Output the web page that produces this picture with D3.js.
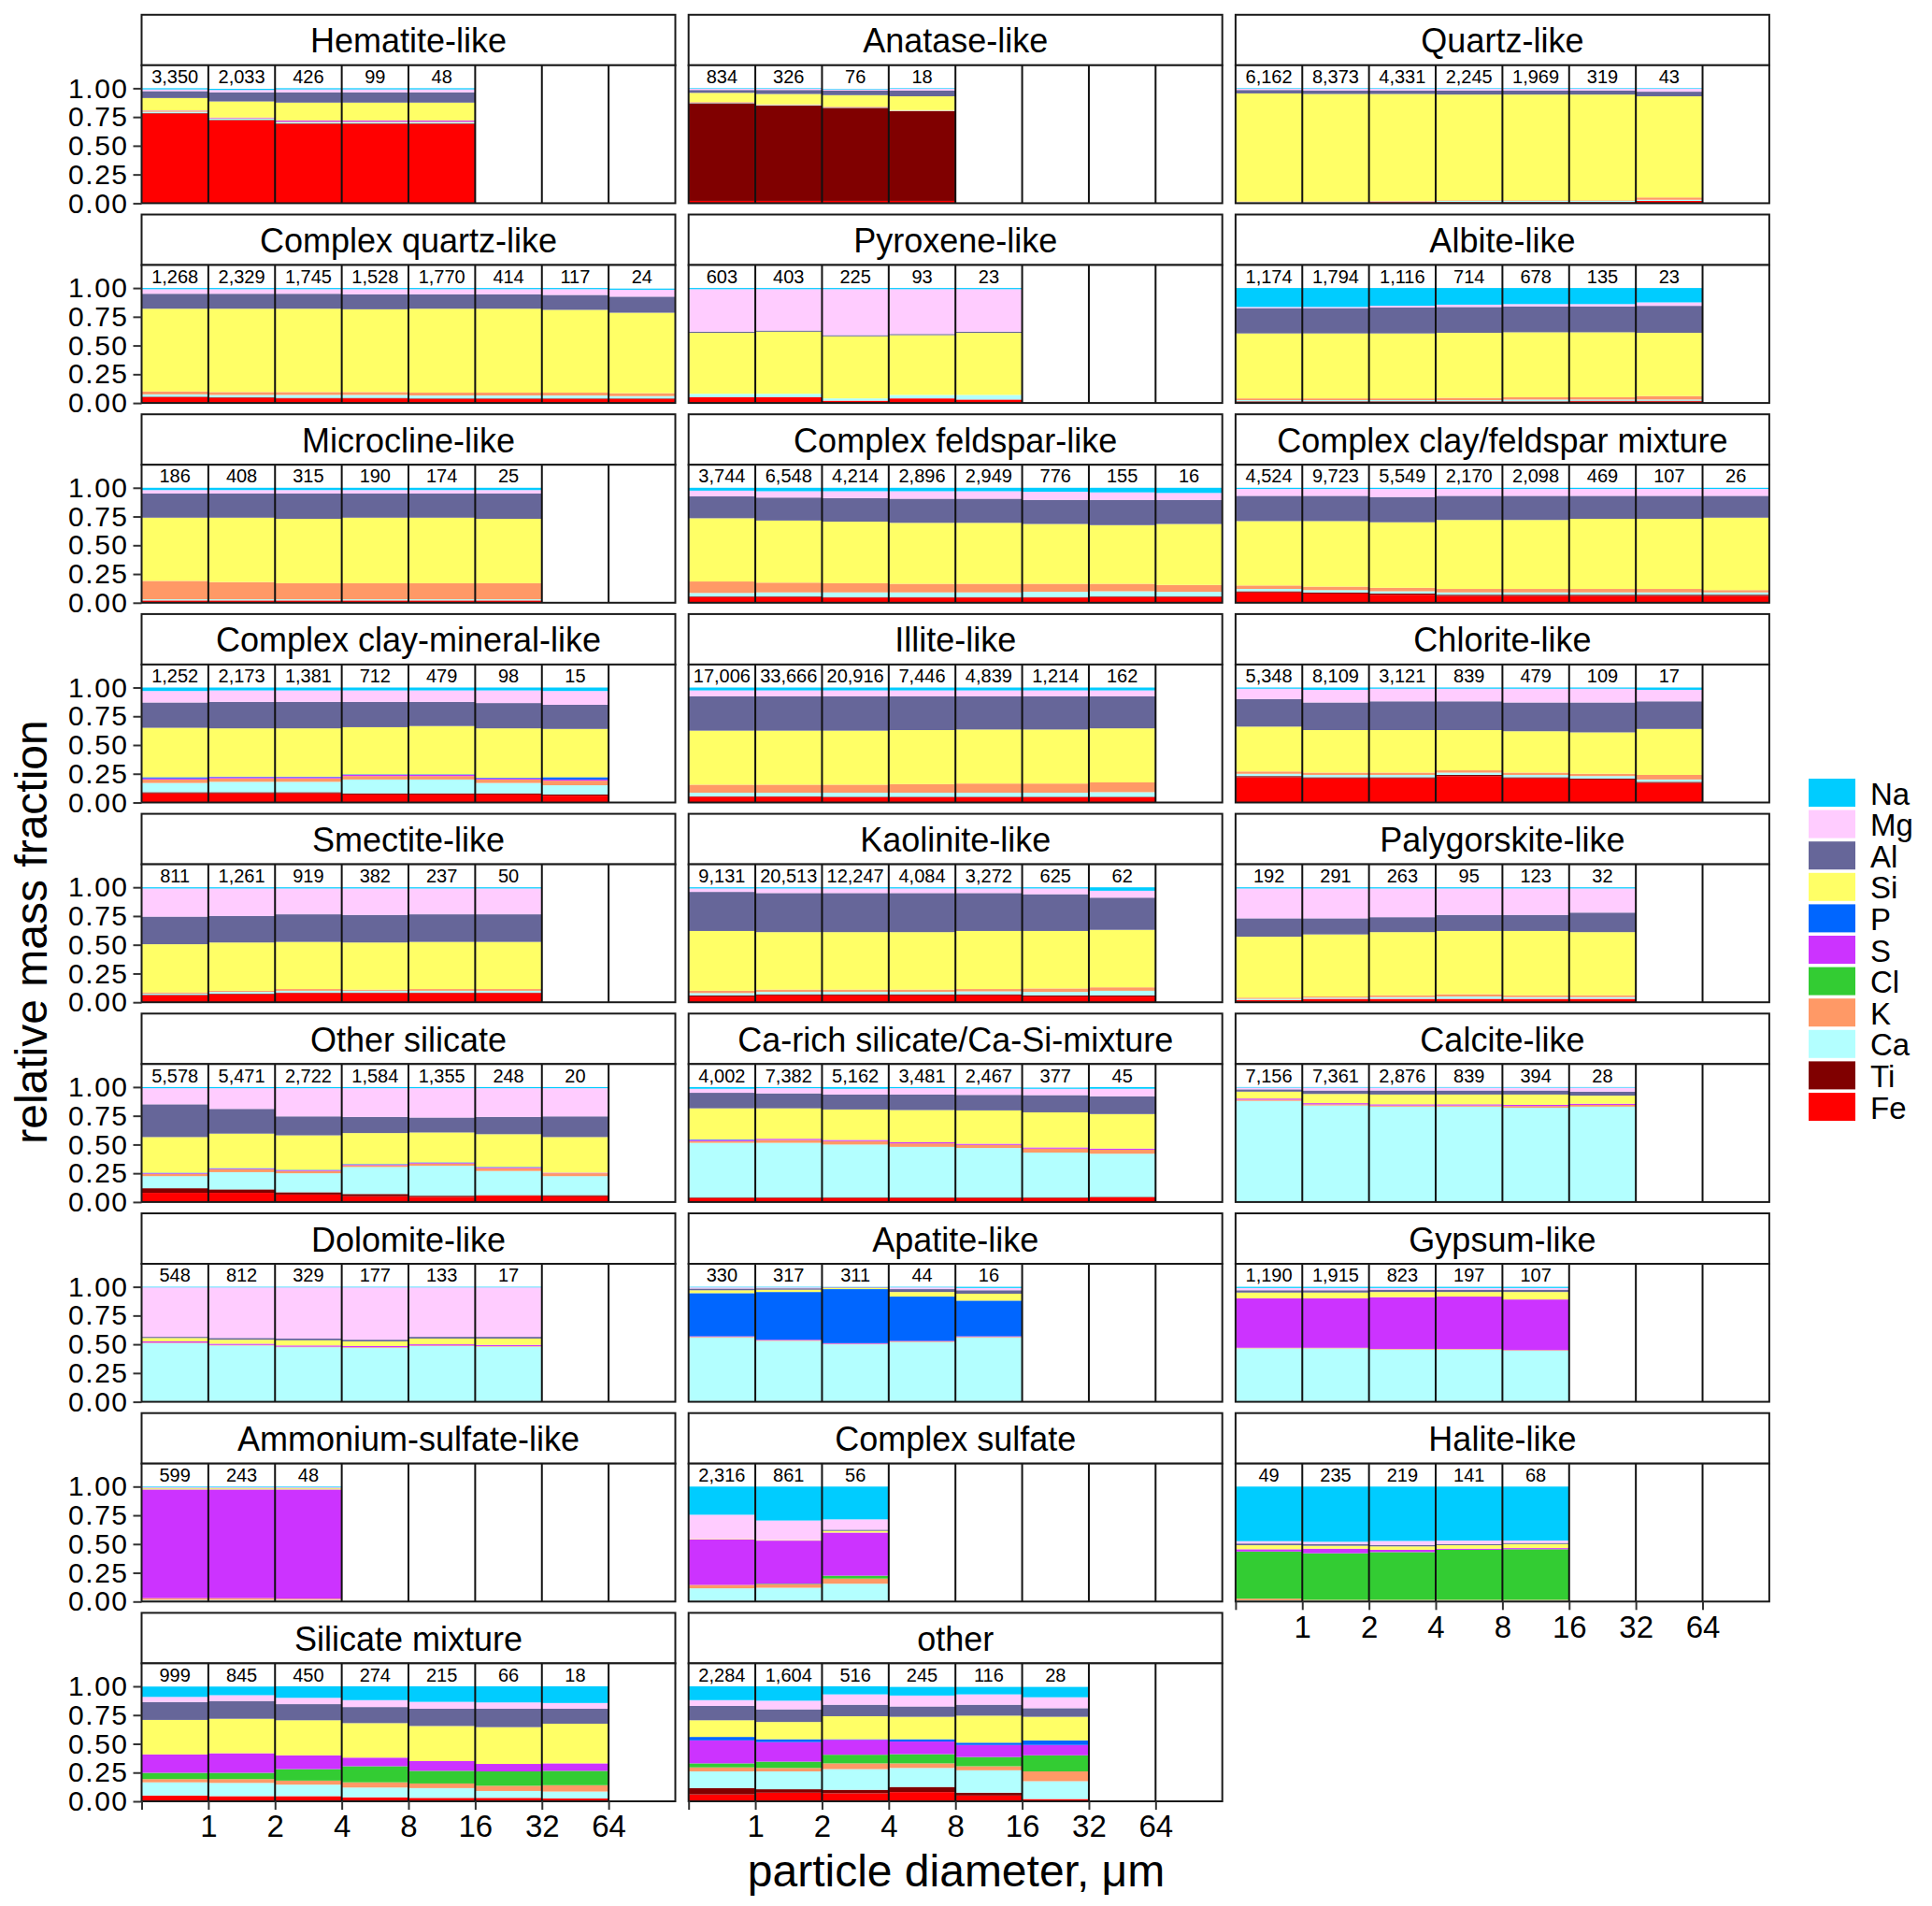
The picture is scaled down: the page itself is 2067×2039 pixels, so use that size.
<!DOCTYPE html>
<html>
<head>
<meta charset="utf-8">
<script src="https://cdn.jsdelivr.net/npm/d3@7"></script>
<style>
  html, body { margin: 0; padding: 0; background: #fff; }
  svg text { font-family: "Liberation Sans", Arial, Helvetica, sans-serif; fill: #000; }
</style>
</head>
<body>
<svg id="chart" width="2067" height="2039"></svg>
<script>
// ---------------- DATA ----------------
const panels = [
  "Hematite-like", "Anatase-like", "Quartz-like",
  "Complex quartz-like", "Pyroxene-like", "Albite-like",
  "Microcline-like", "Complex feldspar-like", "Complex clay/feldspar mixture",
  "Complex clay-mineral-like", "Illite-like", "Chlorite-like",
  "Smectite-like", "Kaolinite-like", "Palygorskite-like",
  "Other silicate", "Ca-rich silicate/Ca-Si-mixture", "Calcite-like",
  "Dolomite-like", "Apatite-like", "Gypsum-like",
  "Ammonium-sulfate-like", "Complex sulfate", "Halite-like",
  "Silicate mixture", "other"
];

const counts = [
  [3350, 2033, 426, 99, 48],
  [834, 326, 76, 18],
  [6162, 8373, 4331, 2245, 1969, 319, 43],
  [1268, 2329, 1745, 1528, 1770, 414, 117, 24],
  [603, 403, 225, 93, 23],
  [1174, 1794, 1116, 714, 678, 135, 23],
  [186, 408, 315, 190, 174, 25],
  [3744, 6548, 4214, 2896, 2949, 776, 155, 16],
  [4524, 9723, 5549, 2170, 2098, 469, 107, 26],
  [1252, 2173, 1381, 712, 479, 98, 15],
  [17006, 33666, 20916, 7446, 4839, 1214, 162],
  [5348, 8109, 3121, 839, 479, 109, 17],
  [811, 1261, 919, 382, 237, 50],
  [9131, 20513, 12247, 4084, 3272, 625, 62],
  [192, 291, 263, 95, 123, 32],
  [5578, 5471, 2722, 1584, 1355, 248, 20],
  [4002, 7382, 5162, 3481, 2467, 377, 45],
  [7156, 7361, 2876, 839, 394, 28],
  [548, 812, 329, 177, 133, 17],
  [330, 317, 311, 44, 16],
  [1190, 1915, 823, 197, 107],
  [599, 243, 48],
  [2316, 861, 56],
  [49, 235, 219, 141, 68],
  [999, 845, 450, 274, 215, 66, 18],
  [2284, 1604, 516, 245, 116, 28]
];

const elements = ["Na", "Mg", "Al", "Si", "P", "S", "Cl", "K", "Ca", "Ti", "Fe"];
const elementColors = ["#00CCFF", "#FFCCFF", "#666699", "#FFFF66", "#0066FF", "#CC33FF",
                       "#33CC33", "#FF9966", "#B3FFFF", "#800000", "#FF0000"];

const binEdges = [0.5, 1, 2, 4, 8, 16, 32, 64, 128];
const xTickLabels = ["", "1", "2", "4", "8", "16", "32", "64"];
const yTicks = [0, 0.25, 0.5, 0.75, 1];

// per-element mass fractions: one array per panel (same order as panels), one value per size bin
// [] means the element is absent in that panel
const Na = [
  [.01,.01,.01,.01,.01], [.005,.005,.005,.005], [.005,.005,.005,.005,.005,.005,.005],
  [.01,.01,.01,.01,.01,.01,.01,.01], [.01,.01,.01,.01,.01], [.165,.165,.155,.145,.14,.14,.125],
  [.02,.02,.02,.02,.02,.02], [.025,.03,.03,.03,.03,.035,.04,.045], [.01,.01,.01,.01,.01,.01,.01,.01],
  [.03,.025,.025,.025,.025,.025,.03], [.025,.025,.025,.025,.025,.025,.025], [.01,.02,.01,.01,.01,.01,.02],
  [.01,.01,.01,.01,.01,.01], [.01,.01,.01,.01,.01,.01,.03], [.01,.01,.01,.01,.01,.01],
  [.01,.01,.01,.01,.01,.01,.01], [.015,.01,.015,.01,.01,.01,.015], [.005,.005,.005,.005,.005,.005],
  [.005,.005,.005,.005,.005,.005], [.005,.005,.002,.005,.01], [.01,.01,.01,.01,.01],
  [.005,.005,.005], [.245,.295,.285], [.475,.48,.473,.47,.47],
  [.09,.075,.10,.12,.135,.14,.145], [.12,.125,.07,.075,.065,.09]
];
const Mg = [
  [.015,.02,.025,.025,.025], [.01,.01,.01,.015], [.01,.015,.015,.015,.015,.015,.025],
  [.04,.04,.04,.045,.045,.045,.05,.06], [.37,.36,.40,.39,.37], [.01,.01,.015,.02,.02,.02,.03],
  [.03,.03,.03,.03,.03,.03], [.05,.055,.06,.065,.065,.07,.065,.06], [.06,.06,.07,.06,.06,.06,.06,.06],
  [.1,.1,.1,.1,.1,.11,.12], [.05,.05,.05,.05,.05,.05,.05], [.09,.11,.11,.11,.12,.12,.10],
  [.245,.24,.225,.23,.225,.225], [.03,.04,.04,.04,.04,.05,.06], [.26,.26,.25,.23,.23,.21],
  [.14,.18,.245,.25,.255,.25,.245], [.035,.045,.05,.055,.055,.055,.065], [.015,.025,.025,.025,.025,.035],
  [.43,.44,.445,.455,.43,.43], [.01,.008,.003,.015,.02], [.02,.02,.015,.015,.015],
  [.005,.005,.005], [.21,.17,.09], [.02,.02,.035,.03,.02],
  [.045,.05,.055,.06,.06,.055,.05], [.05,.075,.09,.095,.09,.095]
];
const Al = [
  [.06,.08,.09,.09,.09], [.025,.035,.04,.05], [.03,.03,.03,.035,.035,.035,.04],
  [.13,.13,.13,.13,.125,.125,.13,.14], [.01,.01,.01,.01,.01], [.22,.22,.225,.225,.225,.225,.235],
  [.21,.21,.22,.21,.21,.22], [.19,.2,.205,.21,.21,.21,.22,.21], [.22,.22,.22,.21,.21,.2,.2,.19],
  [.22,.23,.23,.22,.21,.22,.21], [.3,.3,.3,.295,.29,.29,.28], [.24,.24,.25,.25,.25,.26,.24],
  [.24,.23,.24,.24,.24,.24], [.34,.34,.34,.34,.33,.32,.28], [.16,.14,.13,.14,.14,.17],
  [.285,.215,.165,.14,.13,.15,.18], [.135,.13,.13,.135,.135,.15,.155], [.02,.03,.035,.035,.035,.035],
  [.01,.015,.015,.015,.015,.015], [.015,.012,.005,.025,.03], [.02,.02,.02,.02,.02],
  [.005,.005,.005], [0,0,.01], [.015,.015,.012,.01,.01],
  [.155,.155,.14,.14,.15,.16,.13], [.125,.11,.10,.09,.095,.075]
];
const Si = [
  [.11,.14,.155,.155,.155], [.08,.09,.1,.12], [.94,.935,.93,.92,.92,.92,.88],
  [.72,.725,.725,.72,.73,.73,.72,.7], [.53,.54,.54,.52,.54], [.565,.565,.565,.565,.565,.565,.55],
  [.55,.56,.56,.57,.57,.56], [.55,.54,.535,.53,.53,.52,.51,.53], [.56,.57,.57,.6,.6,.61,.61,.63],
  [.43,.42,.42,.41,.42,.43,.42], [.47,.47,.47,.47,.47,.47,.47], [.39,.37,.37,.35,.36,.36,.40],
  [.42,.42,.41,.41,.41,.41], [.52,.5,.5,.5,.505,.5,.5], [.53,.54,.55,.55,.56,.55],
  [.31,.3,.3,.27,.26,.285,.31], [.27,.265,.265,.28,.29,.305,.30], [.06,.08,.085,.085,.09,.07],
  [.03,.035,.045,.04,.05,.055], [.025,.02,.01,.04,.06], [.05,.05,.045,.04,.065],
  [.01,.01,.01], [.005,.005,.015], [.035,.025,.03,.03,.035],
  [.30,.30,.305,.30,.305,.32,.345], [.145,.15,.2,.195,.235,.205]
];
const P = [
  [], [], [],
  [], [], [],
  [], [], [],
  [.01,.005,.005,.005,.005,.005,.02], [], [],
  [], [], [],
  [.005,.005,.005,.005,.005,.005,0], [.005,0,0,0,0,0,0], [],
  [], [.375,.415,.47,.385,.31], [],
  [], [], [],
  [], [.03,.025,.005,.02,.02,.04]
];
const S = [
  [.005,.005,.01,.01,.01], [], [],
  [], [], [],
  [], [], [],
  [.01,.01,.01,.01,.01,.01,.01], [], [],
  [], [], [],
  [.005,.005,.005,.005,.005,.005,.005], [.01,.01,.01,.01,.01,.01,.01], [.01,.01,.01,.01,.01,.01],
  [.01,.01,.01,.01,.01,.01], [.005,.005,.005,.005,.005], [.43,.43,.45,.455,.44],
  [.945,.945,.95], [.395,.375,.375], [.02,.04,.02,.01,.01],
  [.16,.17,.12,.075,.085,.065,.065], [.2,.17,.13,.11,.105,.09]
];
const Cl = [
  [], [], [],
  [], [], [],
  [], [], [],
  [], [], [],
  [], [], [],
  [], [], [],
  [], [], [],
  [], [0,.005,.025], [.41,.405,.415,.435,.44],
  [.055,.055,.10,.14,.11,.125,.125], [.035,.055,.075,.08,.08,.14]
];
const K = [
  [.005,.005,.005,.005,.005], [.005,.005,.005,.005], [.005,.005,.005,.005,.005,.005,.02],
  [.025,.025,.025,.025,.025,.025,.025,.025], [], [.015,.015,.015,.02,.02,.02,.03],
  [.16,.15,.14,.14,.14,.14], [.10,.085,.08,.075,.075,.07,.065,.06], [.03,.03,.03,.03,.03,.03,.03,.02],
  [.03,.03,.03,.03,.03,.03,.04], [.07,.07,.07,.075,.08,.08,.085], [.02,.02,.02,.02,.02,.02,.04],
  [.01,.01,.015,.01,.015,.015], [.02,.02,.02,.02,.02,.03,.03], [.01,.01,.015,.02,.015,.015],
  [.02,.025,.02,.015,.02,.025,.025], [.015,.025,.03,.03,.027,.035,.035], [.01,.01,.01,.01,.015,.015],
  [.005,.005,.005,.005,.005,.005], [.005,.005,.005,.005,.005], [.005,.005,.005,.005,.005],
  [.015,.015,.01], [.03,.03,.045], [.015,.007,.007,.007,.007],
  [.028,.033,.035,.045,.04,.045,.055], [.035,.03,.05,.04,.035,.085]
];
const Ca = [
  [.01,.01,.01,.01,.01], [.005,.005,.005,.005], [.005,.005,.005,.01,.01,.01,.01],
  [.02,.02,.025,.025,.025,.025,.025,.02], [.03,.03,.02,.03,.04], [.01,.01,.01,.01,.015,.01,.01],
  [.01,.01,.01,.01,.01,.01], [.03,.035,.04,.04,.04,.045,.045,.04], [.02,.02,.02,.02,.02,.02,.02,.02],
  [.08,.09,.09,.12,.12,.09,.08], [.03,.03,.035,.035,.035,.035,.04], [.02,.02,.02,.02,.02,.02,.02],
  [.01,.015,.015,.015,.015,.015], [.02,.02,.02,.02,.025,.03,.04], [.01,.01,.015,.02,.015,.015],
  [.105,.15,.165,.235,.26,.21,.165], [.475,.475,.46,.44,.43,.39,.375], [.875,.835,.825,.825,.815,.825],
  [.505,.485,.47,.465,.48,.475], [.555,.525,.495,.515,.555], [.46,.46,.45,.45,.44],
  [.01,.01,.01], [.11,.115,.15], [.01,.008,.008,.008,.008],
  [.115,.115,.10,.085,.085,.06,.06], [.145,.155,.18,.165,.195,.155]
];
const Ti = [
  [.005,.005,.005,.005,.005], [.85,.83,.81,.78], [],
  [.005,.005,.005,.005,.005,.005,.005,.005], [], [.005,.005,.005,.005,.005,.005,.005],
  [], [.005,.005,.005,.005,.005,.005,.005,.005], [.01,.01,.01,.01,.01,.01,.01,.01],
  [.01,.01,.01,.01,.01,.01,.01], [.005,.005,.005,.005,.005,.005,.005], [.01,.01,.01,.01,.01,.01,.01],
  [.005,.005,.005,.005,.005,.005], [.01,.01,.01,.01,.01,.01,.01], [],
  [.04,.03,.02,.02,.01,.005,.01], [.005,.005,.005,.005,.005,.005,.005], [],
  [], [], [],
  [], [], [],
  [], [.055,.03,.03,.045,.025,0]
];
const Fe = [
  [.78,.72,.69,.69,.69], [.02,.02,.02,.02], [.005,.005,.01,.01,.01,.01,.02],
  [.05,.045,.04,.04,.035,.035,.035,.035], [.05,.05,.02,.04,.03], [.01,.01,.01,.01,.01,.015,.015],
  [.02,.02,.02,.02,.02,.02], [.05,.05,.045,.045,.045,.045,.05,.05], [.09,.08,.07,.06,.06,.06,.06,.06],
  [.08,.08,.08,.07,.07,.07,.06], [.05,.05,.045,.045,.045,.045,.045], [.22,.21,.21,.23,.21,.20,.17],
  [.06,.07,.08,.08,.08,.08], [.05,.06,.06,.06,.06,.05,.05], [.02,.03,.03,.03,.03,.03],
  [.08,.08,.065,.05,.045,.055,.05], [.035,.035,.035,.035,.035,.035,.04], [.005,.005,.005,.005,.005,.005],
  [.005,.005,.005,.005,.005,.005], [.005,.005,.005,.005,.005], [.005,.005,.005,.005,.005],
  [.005,.005,.005], [.005,.005,.005], [],
  [.05,.045,.045,.035,.03,.03,.025], [.06,.075,.07,.08,.05,.02]
];

// ---------------- RENDER ----------------
const fractions = { Na, Mg, Al, Si, P, S, Cl, K, Ca, Ti, Fe };
const stackOrder = elements.slice().reverse(); // Fe at bottom ... Na on top
const colorScale = d3.scaleOrdinal().domain(elements).range(elementColors);

const svg = d3.select("#chart");
const FONT = '"Liberation Sans", Arial, Helvetica, sans-serif';

const colX0 = 151.5, colPitch = 585.2, panelW = 571;
const rowY0 = 15.8, rowPitch = 213.7, stripH = 54, plotH = 147.6;
const nCols = 3;

const x = d3.scaleLog().base(2).domain([binEdges[0], binEdges[binEdges.length - 1]]).range([0, panelW]);
const y = d3.scaleLinear().domain([0, 1.2]).range([plotH, 0]);

panels.forEach((name, p) => {
  const col = p % nCols, row = Math.floor(p / nCols);
  const g = svg.append("g").attr("transform", `translate(${colX0 + col * colPitch},${rowY0 + row * rowPitch})`);

  // strip
  g.append("rect").attr("x", 0).attr("y", 0).attr("width", panelW).attr("height", stripH)
    .attr("fill", "#fff").attr("stroke", "#1a1a1a").attr("stroke-width", 2);
  g.append("text").attr("x", panelW / 2).attr("y", stripH / 2 + 1)
    .attr("text-anchor", "middle").attr("dominant-baseline", "central")
    .style("font-size", "36px").text(name);

  const pg = g.append("g").attr("transform", `translate(0,${stripH})`);
  pg.append("rect").attr("width", panelW).attr("height", plotH).attr("fill", "#fff");

  const nb = counts[p].length;
  const rows = d3.range(nb).map(i => {
    const r = { bin: i };
    elements.forEach(el => { r[el] = fractions[el][p][i] || 0; });
    return r;
  });
  const series = d3.stack().keys(stackOrder)(rows);

  pg.selectAll("g.layer").data(series).join("g").attr("class", "layer")
    .attr("fill", d => colorScale(d.key))
    .selectAll("rect").data(d => d).join("rect")
      .attr("x", d => x(binEdges[d.data.bin]))
      .attr("width", d => x(binEdges[d.data.bin + 1]) - x(binEdges[d.data.bin]))
      .attr("y", d => y(d[1]))
      .attr("height", d => Math.max(0, y(d[0]) - y(d[1])));

  // bin separators
  pg.selectAll("line.sep").data(binEdges.slice(1, -1)).join("line").attr("class", "sep")
    .attr("x1", d => x(d)).attr("x2", d => x(d)).attr("y1", 0).attr("y2", plotH)
    .attr("stroke", "#111").attr("stroke-width", 2);

  // counts
  pg.selectAll("text.cnt").data(counts[p]).join("text").attr("class", "cnt")
    .attr("x", (d, i) => (x(binEdges[i]) + x(binEdges[i + 1])) / 2)
    .attr("y", y(1.1))
    .attr("text-anchor", "middle").attr("dominant-baseline", "central")
    .style("font-size", "20px").text(d => d3.format(",")(d));

  // panel border
  pg.append("rect").attr("width", panelW).attr("height", plotH)
    .attr("fill", "none").attr("stroke", "#1a1a1a").attr("stroke-width", 2);

  // y axis on first column
  if (col === 0) {
    const ya = pg.append("g").call(d3.axisLeft(y).tickValues(yTicks).tickFormat(d3.format(".2f")).tickSize(9).tickPadding(5));
    ya.select(".domain").remove();
    ya.selectAll(".tick line").attr("stroke", "#333").attr("stroke-width", 2);
    ya.selectAll(".tick text").style("font-size", "30px").style("letter-spacing", "1.5px")
      .style("font-family", FONT).attr("fill", "#000");
  }
  // x axis under bottom panel of each column
  if (p + nCols >= panels.length) {
    const xa = pg.append("g").attr("transform", `translate(0,${plotH})`)
      .call(d3.axisBottom(x).tickValues(binEdges.slice(0, -1)).tickFormat((d, i) => xTickLabels[i]).tickSize(9).tickPadding(6));
    xa.select(".domain").remove();
    xa.selectAll(".tick line").attr("stroke", "#333").attr("stroke-width", 2);
    xa.selectAll(".tick text").style("font-size", "33px").style("font-family", FONT).attr("fill", "#000");
  }
});

// axis titles
svg.append("text").attr("transform", "translate(50,997) rotate(-90)")
  .attr("text-anchor", "middle").style("font-size", "48px").text("relative mass fraction");
svg.append("text").attr("x", 1023).attr("y", 2018)
  .attr("text-anchor", "middle").style("font-size", "48px").text("particle diameter, μm");

// legend
const lg = svg.append("g").attr("transform", "translate(1935,833)");
const li = lg.selectAll("g").data(elements).join("g").attr("transform", (d, i) => `translate(0,${i * 33.6})`);
li.append("rect").attr("width", 50).attr("height", 30).attr("fill", d => colorScale(d));
li.append("text").attr("x", 66).attr("y", 16).attr("dominant-baseline", "central")
  .style("font-size", "33px").text(d => d);
</script>
</body>
</html>
